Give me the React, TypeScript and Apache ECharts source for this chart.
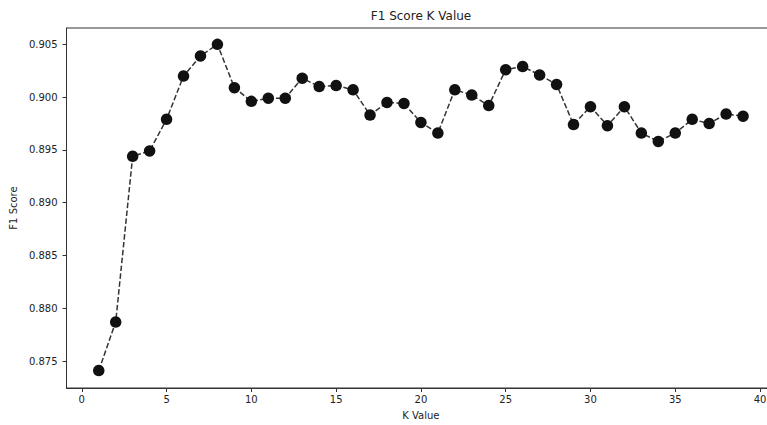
import React, { useEffect, useRef } from "react";
import * as echarts from "echarts";

const kValues: number[] = [
  1, 2, 3, 4, 5, 6, 7, 8, 9, 10, 11, 12, 13, 14, 15, 16, 17, 18, 19, 20,
  21, 22, 23, 24, 25, 26, 27, 28, 29, 30, 31, 32, 33, 34, 35, 36, 37, 38, 39,
];
const f1Scores: number[] = [
  0.8741, 0.8787, 0.8944, 0.8949, 0.8979, 0.902, 0.9039, 0.905, 0.9009, 0.8996,
  0.8999, 0.8999, 0.9018, 0.901, 0.9011, 0.9007, 0.8983, 0.8995, 0.8994, 0.8976,
  0.8966, 0.9007, 0.9002, 0.8992, 0.9026, 0.9029, 0.9021, 0.9012, 0.8974, 0.8991,
  0.8973, 0.8991, 0.8966, 0.8958, 0.8966, 0.8979, 0.8975, 0.8984, 0.8982,
];
const titleText = "F1 Score K Value";
const xName = "K Value";
const yName = "F1 Score";

export default function App() {
  const ref = useRef<HTMLDivElement>(null);
  useEffect(() => {
    if (!ref.current) return;
    const chart = echarts.init(ref.current, undefined, { renderer: "svg" });
    const font = "DejaVu Sans";
    chart.setOption({
      animation: false,
      backgroundColor: "#ffffff",
      title: {
        text: titleText,
        left: 421,
        top: 10,
        padding: 0,
        textAlign: "center",
        textStyle: { fontFamily: font, fontSize: 12, fontWeight: "normal", color: "#222" },
      },
      grid: {
        left: 65,
        top: 28,
        width: 710.3,
        height: 362.7,
        show: true,
        borderColor: "#333",
        borderWidth: 1,
        backgroundColor: "transparent",
      },
      xAxis: {
        type: "value",
        min: -0.9,
        max: 40.9,
        splitNumber: 8,
        name: xName,
        nameLocation: "middle",
        nameGap: 22,
        nameTextStyle: { fontFamily: font, fontSize: 10, color: "#222" },
        axisLine: { show: true, onZero: false, lineStyle: { color: "#333", width: 1 } },
        axisTick: { show: true, length: 4, lineStyle: { color: "#333" } },
        splitLine: { show: false },
        axisLabel: {
          fontFamily: font,
          fontSize: 10,
          color: "#222",
          margin: 6,
          showMinLabel: false,
          showMaxLabel: false,
          formatter: (v: number) => (Math.abs(v - Math.round(v)) < 1e-9 && Math.round(v) % 5 === 0 ? String(Math.round(v)) : ""),
        },
      },
      yAxis: {
        type: "value",
        min: 0.87245,
        max: 0.90655,
        splitNumber: 7,
        name: yName,
        nameLocation: "middle",
        nameGap: 33,
        nameTextStyle: { fontFamily: font, fontSize: 10, color: "#222" },
        axisLine: { show: true, onZero: false, lineStyle: { color: "#333", width: 1 } },
        axisTick: { show: true, length: 4, lineStyle: { color: "#333" } },
        splitLine: { show: false },
        axisLabel: {
          fontFamily: font,
          fontSize: 10,
          color: "#222",
          margin: 9,
          showMinLabel: false,
          showMaxLabel: false,
          formatter: (v: number) => v.toFixed(3),
        },
      },
      series: [
        {
          type: "line",
          data: kValues.map((k, i) => [k, f1Scores[i]]),
          symbol: "circle",
          symbolSize: 11.5,
          itemStyle: { color: "#111", borderColor: "#111", borderWidth: 0 },
          lineStyle: { color: "#333", width: 1.5, type: [5.5, 2.4] },
          emphasis: { disabled: true },
          z: 3,
        },
      ],
    });
    return () => chart.dispose();
  }, []);
  return (
    <div style={{ position: "fixed", left: 0, top: 0, width: 767, height: 425, overflow: "hidden", background: "#fff" }}>
      <div ref={ref} style={{ width: 790, height: 425 }} />
    </div>
  );
}
